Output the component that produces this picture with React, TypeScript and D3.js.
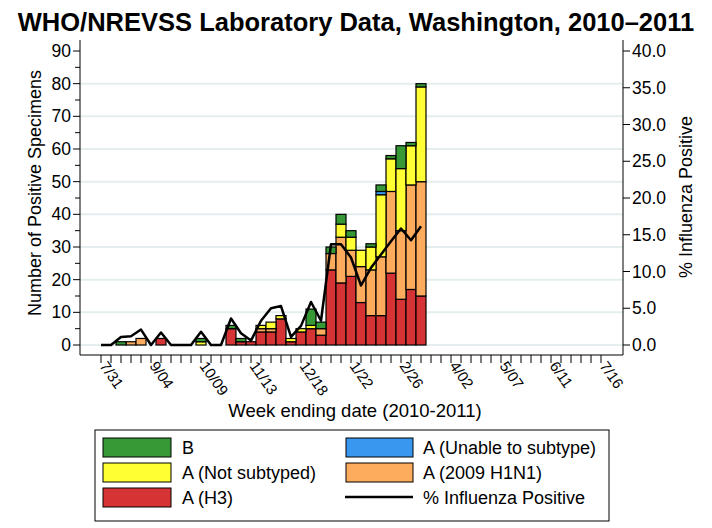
import React from "react";
import * as d3 from "d3";

// week index 0 = week ending 7/31/2010
const weeks = d3.range(0, 33);
const tickWeeks = d3.range(0, 51);
const tickLabels = ["7/31", "9/04", "10/09", "11/13", "12/18", "1/22", "2/26", "4/02", "5/07", "6/11", "7/16"];

const aH3 = [0, 0, 0, 0, 0, 0, 2, 0, 0, 0, 0, 0, 0, 5, 1, 1, 4, 4, 8, 1, 4, 5, 3, 23, 19, 21, 13, 9, 9, 22, 14, 17, 15];
const aH1N1 = [0, 0, 0, 1, 2, 0, 0, 0, 0, 0, 0, 0, 0, 0, 0, 0, 1, 1, 0, 0, 0, 0, 2, 5, 14, 8, 11, 14, 18, 25, 21, 32, 35];
const aNotSubtyped = [0, 0, 0, 0, 0, 0, 0, 0, 0, 0, 1, 0, 0, 0, 0, 0, 1, 2, 1, 1, 1, 1, 0, 0, 4, 4, 5, 7, 19, 10, 19, 12, 29];
const aUnable = [0, 0, 0, 0, 0, 0, 0, 0, 0, 0, 0, 0, 0, 0, 0, 0, 0, 0, 0, 0, 0, 0, 0, 0, 0, 0, 0, 0, 1, 0, 0, 0, 0];
const fluB = [0, 0, 1, 0, 0, 0, 0, 0, 0, 0, 1, 0, 0, 1, 1, 0, 0, 0, 0, 0, 0, 5, 2, 2, 3, 2, 0, 1, 2, 1, 7, 1, 1];
const pctPositive = [0, 0, 1.1, 1.2, 2.1, 0, 1.7, 0, 0, 0, 1.8, 0, 0, 3.6, 1.6, 0.6, 3.3, 5.0, 5.3, 1.1, 2.6, 5.85, 3.3, 13.7, 13.7, 11.9, 8.1, 10.5, 12.3, 14.1, 15.85, 14.25, 16.15];

const series = [
  { key: "h3", name: "A (H3)", values: aH3, color: "#d63434" },
  { key: "h1n1", name: "A (2009 H1N1)", values: aH1N1, color: "#fdab5c" },
  { key: "ns", name: "A (Not subtyped)", values: aNotSubtyped, color: "#ffff33" },
  { key: "un", name: "A (Unable to subtype)", values: aUnable, color: "#3997f0" },
  { key: "b", name: "B", values: fluB, color: "#369936" },
];

const W = 712;
const H = 528;
const FONT = "'Liberation Sans', Arial, Helvetica, sans-serif";

export default function App() {
  const x = d3.scaleLinear().domain([-2.1, 52.2]).range([80, 623]);
  const y = d3.scaleLinear().domain([0, 90]).range([345, 51]);
  const yPct = d3.scaleLinear().domain([0, 40]).range([345, 51]);
  const frameTop = 40;
  const frameBottom = 355;
  const barW = x(1) - x(0);

  const rows = weeks.map((w) => {
    const r: any = { week: w };
    series.forEach((s) => (r[s.key] = s.values[w]));
    return r;
  });
  const stacked = d3.stack().keys(series.map((s) => s.key))(rows);

  const line = d3
    .line<number>()
    .x((d, i) => x(weeks[i]))
    .y((d) => yPct(d));

  const leftTicks = d3.range(0, 91, 5);
  const rightTicks = d3.range(0, 40.1, 5);
  const gridTicks = d3.range(0, 81, 10);

  const legendLeft = [series[4], series[2], series[0]];
  const legendRight = [series[3], series[1]];

  return (
    <svg
      width={W}
      height={H}
      style={{ position: "absolute", left: 0, top: 0, background: "#fff" }}
      fontFamily={FONT}
    >
      <text x={356} y={31} textAnchor="middle" fontSize={25.5} fontWeight="bold">
        WHO/NREVSS Laboratory Data, Washington, 2010–2011
      </text>

      {/* grid */}
      {gridTicks.map((t) => (
        <line key={t} x1={80} x2={623} y1={y(t)} y2={y(t)} stroke="#e4eeee" strokeWidth={2} />
      ))}

      {/* bars */}
      {stacked.map((layer, li) => (
        <g key={layer.key} fill={series[li].color}>
          {layer.map((d, i) =>
            d[1] - d[0] > 0 ? (
              <rect
                key={i}
                x={x(weeks[i]) - barW / 2}
                y={y(d[1])}
                width={barW}
                height={y(d[0]) - y(d[1])}
                stroke="#000"
                strokeWidth={1.2}
              />
            ) : null
          )}
        </g>
      ))}

      <path d={line(pctPositive) || ""} fill="none" stroke="#000" strokeWidth={2.5} strokeLinejoin="round" />

      {/* frame */}
      <line x1={80} x2={80} y1={frameTop} y2={frameBottom} stroke="#000" />
      <line x1={623} x2={623} y1={frameTop} y2={frameBottom} stroke="#000" />
      <line x1={80} x2={623} y1={frameBottom} y2={frameBottom} stroke="#000" />

      {/* left axis */}
      {leftTicks.map((t) => (
        <g key={t}>
          <line x1={80} x2={t % 10 === 0 ? 73 : 75} y1={y(t)} y2={y(t)} stroke="#000" />
          {t % 10 === 0 && (
            <text x={71} y={y(t) + 6} textAnchor="end" fontSize={17.5}>
              {t}
            </text>
          )}
        </g>
      ))}
      <text transform="translate(41,193) rotate(-90)" textAnchor="middle" fontSize={18}>
        Number of Positive Specimens
      </text>

      {/* right axis */}
      {rightTicks.map((t) => (
        <g key={t}>
          <line x1={623} x2={630} y1={yPct(t)} y2={yPct(t)} stroke="#000" />
          <text x={632} y={yPct(t) + 6} fontSize={17.5}>
            {t.toFixed(1)}
          </text>
        </g>
      ))}
      <text transform="translate(692,197) rotate(-90)" textAnchor="middle" fontSize={18}>
        % Influenza Positive
      </text>

      {/* bottom axis */}
      {tickWeeks.map((w) => (
        <line key={w} x1={x(w)} x2={x(w)} y1={frameBottom} y2={frameBottom + 8} stroke="#000" />
      ))}
      {tickLabels.map((lab, i) => (
        <text
          key={lab}
          transform={`translate(${x(i * 5) - 2},${frameBottom + 11}) rotate(55)`}
          fontSize={15}
        >
          {lab}
        </text>
      ))}
      <text x={355} y={417} textAnchor="middle" fontSize={18.5}>
        Week ending date (2010-2011)
      </text>

      {/* legend */}
      <rect x={95} y={430} width={514} height={91} fill="none" stroke="#000" />
      {legendLeft.map((s, i) => (
        <g key={s.key}>
          <rect x={103} y={438 + i * 25} width={68} height={19} fill={s.color} stroke="#000" />
          <text x={182} y={454 + i * 25} fontSize={18}>
            {s.name}
          </text>
        </g>
      ))}
      {legendRight.map((s, i) => (
        <g key={s.key}>
          <rect x={346} y={438 + i * 25} width={67} height={19} fill={s.color} stroke="#000" />
          <text x={423} y={454 + i * 25} fontSize={18}>
            {s.name}
          </text>
        </g>
      ))}
      <line x1={345} x2={413} y1={497} y2={497} stroke="#000" strokeWidth={2.5} />
      <text x={423} y={504} fontSize={18}>
        % Influenza Positive
      </text>
    </svg>
  );
}
